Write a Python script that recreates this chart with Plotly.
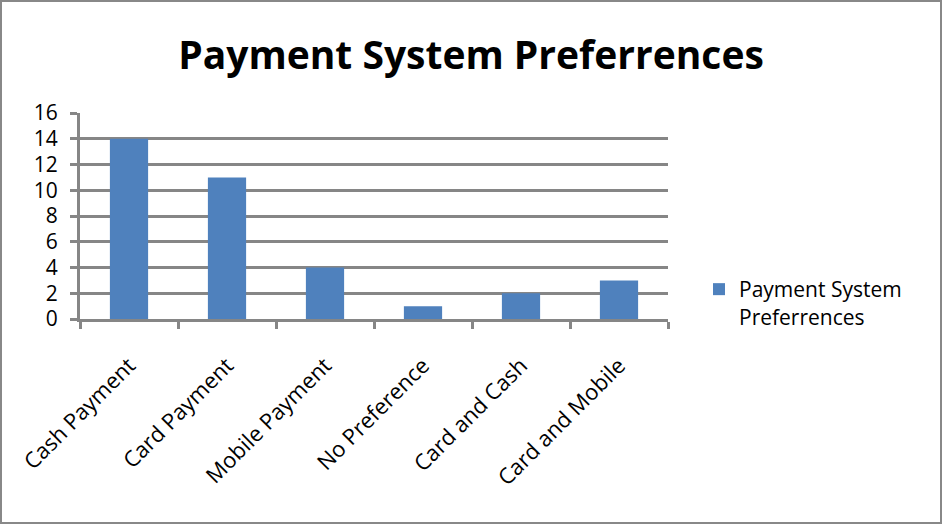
import plotly.graph_objects as go

categories = ["Cash Payment", "Card Payment", "Mobile Payment", "No Preference", "Card and Cash", "Card and Mobile"]
values = [14, 11, 4, 1, 2, 3]
series_name = "Payment System<br>Preferrences"
title_text = "Payment System Preferrences"
y_ticks = [0, 2, 4, 6, 8, 10, 12, 14, 16]

W, H = 943, 525
ml, mr, mt, mb = 80, 275, 113, 206
pw, ph = W - ml - mr, H - mt - mb

fig = go.Figure()
fig.add_trace(go.Bar(x=categories, y=values, name=series_name,
                     marker=dict(color="#4F81BD", line=dict(width=0)),
                     showlegend=True))

font_family = "Open Sans, Liberation Sans, sans-serif"
fig.update_layout(
    width=W, height=H,
    margin=dict(l=ml, r=mr, t=mt, b=mb, autoexpand=False),
    paper_bgcolor="white", plot_bgcolor="white",
    bargap=0.61,
    title=dict(text="<b>" + title_text + "</b>", x=(471 - ml) / pw, xref="paper", xanchor="center",
               y=1 - 55 / H, yanchor="middle",
               font=dict(family=font_family, size=39, color="black")),
    font=dict(family=font_family, color="black"),
    showlegend=True,
    legend=dict(x=(699 - ml) / pw, y=(319 - 269) / ph, xanchor="left", yanchor="top",
                valign="top",
                font=dict(size=21, family=font_family), bgcolor="rgba(0,0,0,0)",
                itemsizing="constant"),
    xaxis=dict(type="category", tickson="boundaries", ticks="outside", ticklen=7,
               tickwidth=3, tickcolor="#868686", showline=True, linecolor="#868686",
               linewidth=3, tickangle=-45, tickfont=dict(size=22), showgrid=False,
               ticklabelstandoff=22),
    yaxis=dict(range=[0, 16], tickvals=y_ticks, ticks="outside", ticklen=7, tickwidth=3,
               tickcolor="#868686", showline=True, linecolor="#868686", linewidth=3,
               showgrid=True, gridcolor="#868686", gridwidth=3, zeroline=False,
               tickfont=dict(size=21), fixedrange=True, ticklabelstandoff=8),
    shapes=[dict(type="rect", xref="paper", yref="paper",
                 x0=(1 - ml) / pw, x1=(W - 2 - ml) / pw,
                 y0=(H - mb - (H - 2)) / ph, y1=(H - mb - 1) / ph,
                 line=dict(color="#888888", width=2), fillcolor="rgba(0,0,0,0)", layer="below")],
)

fig.write_html("out.html", config={"displayModeBar": False},
               post_script="document.body.style.margin='0px';")
